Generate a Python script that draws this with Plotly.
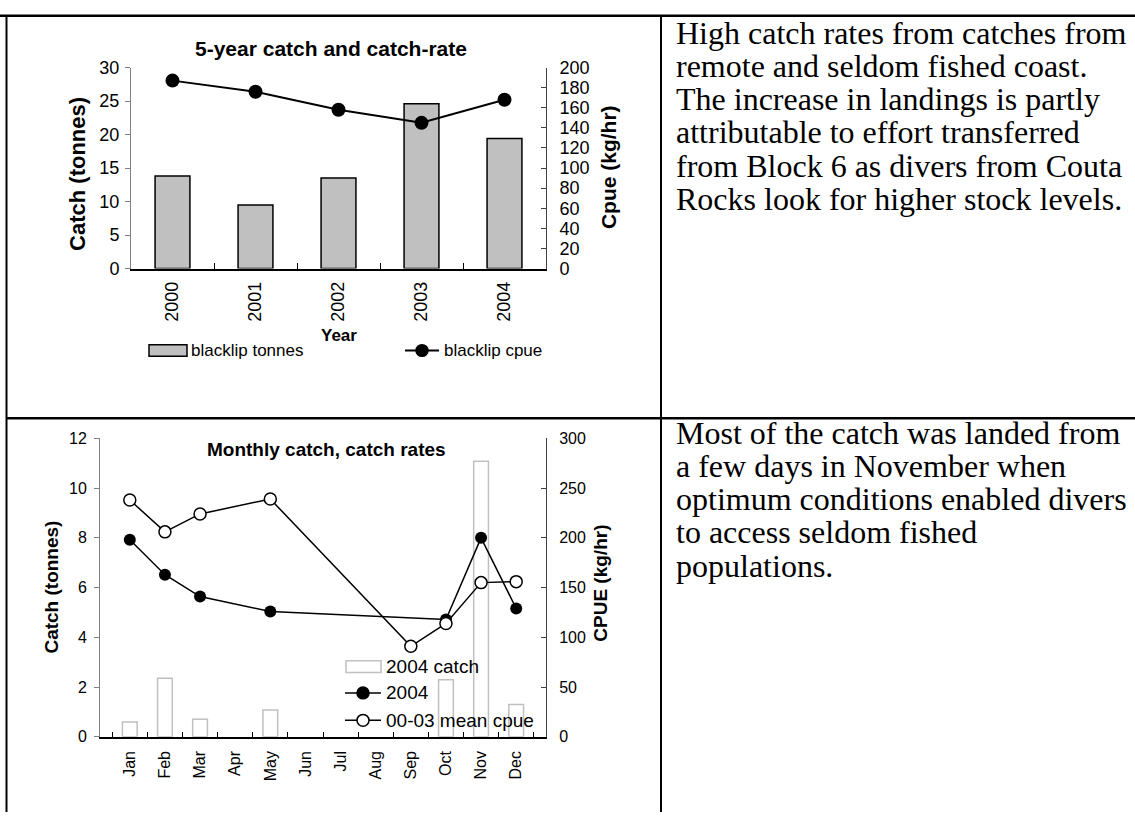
import plotly.graph_objects as go

W, H = 1135, 822

# ---- data ----------------------------------------------------------------
years = ["2000", "2001", "2002", "2003", "2004"]
blacklip_tonnes = [13.8, 9.5, 13.5, 24.6, 19.4]
blacklip_cpue = [187, 176, 158, 145, 168]

months = ["Jan", "Feb", "Mar", "Apr", "May", "Jun",
          "Jul", "Aug", "Sep", "Oct", "Nov", "Dec"]
catch_2004 = [0.6, 2.36, 0.71, None, 1.08, None, None, None, None, 2.3, 11.08, 1.3]
cpue_2004 = [198, 163, 141, None, 126, None, None, None, None, 118, 200, 129]
cpue_mean_00_03 = [238, 206, 224, None, 239, None, None, None, 91, 114, 155, 156]

top_notes = [
    "High catch rates from catches from",
    "remote and seldom fished coast.",
    "The increase in landings is partly",
    "attributable to effort transferred",
    "from Block 6 as divers from Couta",
    "Rocks look for higher stock levels.",
]
bottom_notes = [
    "Most of the catch was landed from",
    "a few days in November when",
    "optimum conditions enabled divers",
    "to access seldom fished",
    "populations.",
]

SANS = "Liberation Sans, Arial, sans-serif"
SERIF = "Liberation Serif, Times New Roman, serif"


def fx(x):
    return x / W


def fy(y):
    return 1 - y / H


fig = go.Figure()

# ---- 5-year chart --------------------------------------------------------
fig.add_trace(go.Bar(
    x=years, y=blacklip_tonnes, name="blacklip tonnes",
    marker=dict(color="#C0C0C0", line=dict(color="#000000", width=1.5)),
    xaxis="x", yaxis="y", showlegend=False,
))
fig.add_trace(go.Scatter(
    x=years, y=blacklip_cpue, name="blacklip cpue", mode="lines+markers",
    line=dict(color="#000000", width=2),
    marker=dict(color="#000000", size=14),
    xaxis="x", yaxis="y2", showlegend=False,
))

# ---- monthly chart -------------------------------------------------------
fig.add_trace(go.Bar(
    x=months, y=catch_2004, name="2004 catch",
    marker=dict(color="#FFFFFF", line=dict(color="#C0C0C0", width=1.5)),
    xaxis="x2", yaxis="y3", showlegend=False,
))
fig.add_trace(go.Scatter(
    x=months, y=cpue_2004, name="2004", mode="lines+markers",
    connectgaps=True,
    line=dict(color="#000000", width=1.5),
    marker=dict(color="#000000", size=12),
    xaxis="x2", yaxis="y4", showlegend=False,
))
fig.add_trace(go.Scatter(
    x=months, y=cpue_mean_00_03, name="00-03 mean cpue", mode="lines+markers",
    connectgaps=True,
    line=dict(color="#000000", width=1.5),
    marker=dict(color="#FFFFFF", size=12, line=dict(color="#000000", width=1.5)),
    xaxis="x2", yaxis="y4", showlegend=False,
))

tick_top = dict(family=SANS, size=18, color="#000000")
tick_bot = dict(family=SANS, size=16, color="#000000")

fig.update_layout(
    width=W, height=H,
    margin=dict(l=0, r=0, t=0, b=0),
    paper_bgcolor="#FFFFFF", plot_bgcolor="#FFFFFF",
    showlegend=False,
    bargap=0.58,
    xaxis=dict(
        domain=[fx(131), fx(546)], anchor="y", type="category",
        showline=True, linecolor="#000000", linewidth=2,
        ticks="inside", tickson="boundaries", ticklen=6, tickcolor="#000000",
        tickangle=-90, tickfont=tick_top, ticklabelstandoff=4,
        showgrid=False, zeroline=False, fixedrange=True,
    ),
    yaxis=dict(
        domain=[fy(265), fy(59)], anchor="x", range=[0, 30],
        tickmode="linear", tick0=0, dtick=5,
        showline=True, linecolor="#808080", linewidth=1,
        ticks="outside", ticklen=5, tickcolor="#808080",
        tickfont=tick_top, ticklabelstandoff=2,
        showgrid=False, zeroline=False,
    ),
    yaxis2=dict(
        overlaying="y", side="right", anchor="x", range=[0, 200],
        tickmode="linear", tick0=0, dtick=20,
        showline=True, linecolor="#404040", linewidth=1,
        ticks="inside", ticklen=5, tickcolor="#404040",
        tickfont=tick_top, ticklabelstandoff=9,
        showgrid=False, zeroline=False,
    ),
    xaxis2=dict(
        domain=[fx(100), fx(546)], anchor="y3", type="category",
        categoryorder="array", categoryarray=months,
        showline=True, linecolor="#000000", linewidth=1.5,
        ticks="inside", tickson="boundaries", ticklen=5, tickcolor="#000000",
        tickangle=-90, tickfont=tick_bot, ticklabelstandoff=6,
        showgrid=False, zeroline=False,
    ),
    yaxis3=dict(
        domain=[fy(745), fy(439)], anchor="x2", range=[0, 12],
        tickmode="linear", tick0=0, dtick=2,
        showline=True, linecolor="#808080", linewidth=1,
        ticks="outside", ticklen=5, tickcolor="#808080",
        tickfont=tick_bot, ticklabelstandoff=4,
        showgrid=False, zeroline=False,
    ),
    yaxis4=dict(
        overlaying="y3", side="right", anchor="x2", range=[0, 300],
        tickmode="linear", tick0=0, dtick=50,
        showline=True, linecolor="#404040", linewidth=1,
        ticks="inside", ticklen=5, tickcolor="#404040",
        tickfont=tick_bot, ticklabelstandoff=9,
        showgrid=False, zeroline=False,
    ),
)

ann = []


def label(text, x, y, size, family=SANS, xanchor="center", angle=0):
    ann.append(dict(
        text=text, x=fx(x), y=fy(y), xref="paper", yref="paper",
        xanchor=xanchor, yanchor="middle", showarrow=False, textangle=angle,
        font=dict(family=family, size=size, color="#000000"),
    ))


# chart titles and axis titles
label("<b>5-year catch and catch-rate</b>", 331, 39, 21)
label("<b>Catch (tonnes)</b>", 78, 168, 22, angle=-90)
label("<b>Cpue (kg/hr)</b>", 608, 161, 21, angle=-90)
label("<b>Year</b>", 339, 334, 17)

label("<b>Monthly catch, catch rates</b>", 327, 450, 19)
label("<b>Catch (tonnes)</b>", 52, 592, 19, angle=-90)
label("<b>CPUE (kg/hr)</b>", 601, 588, 19, angle=-90)

# notes in the right-hand column
for i, line in enumerate(top_notes):
    label(line, 674, 34 + 34 * i - 10.5, 32, family=SERIF, xanchor="left")
for i, line in enumerate(bottom_notes):
    label(line, 674, 444 + 34 * i - 10.5, 32, family=SERIF, xanchor="left")

shapes = []


def rect(x0, y0, x1, y1, fill, edge, w):
    shapes.append(dict(type="rect", xref="paper", yref="paper",
                       x0=fx(x0), x1=fx(x1), y0=fy(y1), y1=fy(y0),
                       fillcolor=fill, line=dict(color=edge, width=w)))


def hline(x0, x1, y, w, color="#000000"):
    shapes.append(dict(type="line", xref="paper", yref="paper",
                       x0=fx(x0), x1=fx(x1), y0=fy(y), y1=fy(y),
                       line=dict(color=color, width=w)))


def vline(x, y0, y1, w):
    shapes.append(dict(type="line", xref="paper", yref="paper",
                       x0=fx(x), x1=fx(x), y0=fy(y0), y1=fy(y1),
                       line=dict(color="#000000", width=w)))


def dot(cx, cy, r, fill):
    shapes.append(dict(type="circle", xref="paper", yref="paper",
                       x0=fx(cx - r), x1=fx(cx + r), y0=fy(cy + r), y1=fy(cy - r),
                       fillcolor=fill, line=dict(color="#000000", width=1.5)))


# legend of the 5-year chart
rect(149, 343, 187, 355, "#C0C0C0", "#000000", 1.5)
label("blacklip tonnes", 189, 349, 17, xanchor="left")
hline(405, 439, 349, 2)
dot(422, 349, 6, "#000000")
label("blacklip cpue", 442, 349, 17, xanchor="left")

# legend of the monthly chart
rect(346, 667, 381, 679, "#FFFFFF", "#C0C0C0", 1.5)
label("2004 catch", 384, 673, 19, xanchor="left")
hline(345, 381, 700, 1.5)
dot(363, 700, 6, "#000000")
label("2004", 384, 700, 19, xanchor="left")
hline(345, 381, 728, 1.5)
dot(363, 728, 6, "#FFFFFF")
label("00-03 mean cpue", 384, 728, 19, xanchor="left")

# table rules
hline(0, W, 6, 2.5)
hline(6, W, 418.5, 2.5)
vline(6.5, 6, H, 2)
vline(661, 6, H, 2)

fig.update_layout(annotations=ann, shapes=shapes)

fig.write_html("out.html")
